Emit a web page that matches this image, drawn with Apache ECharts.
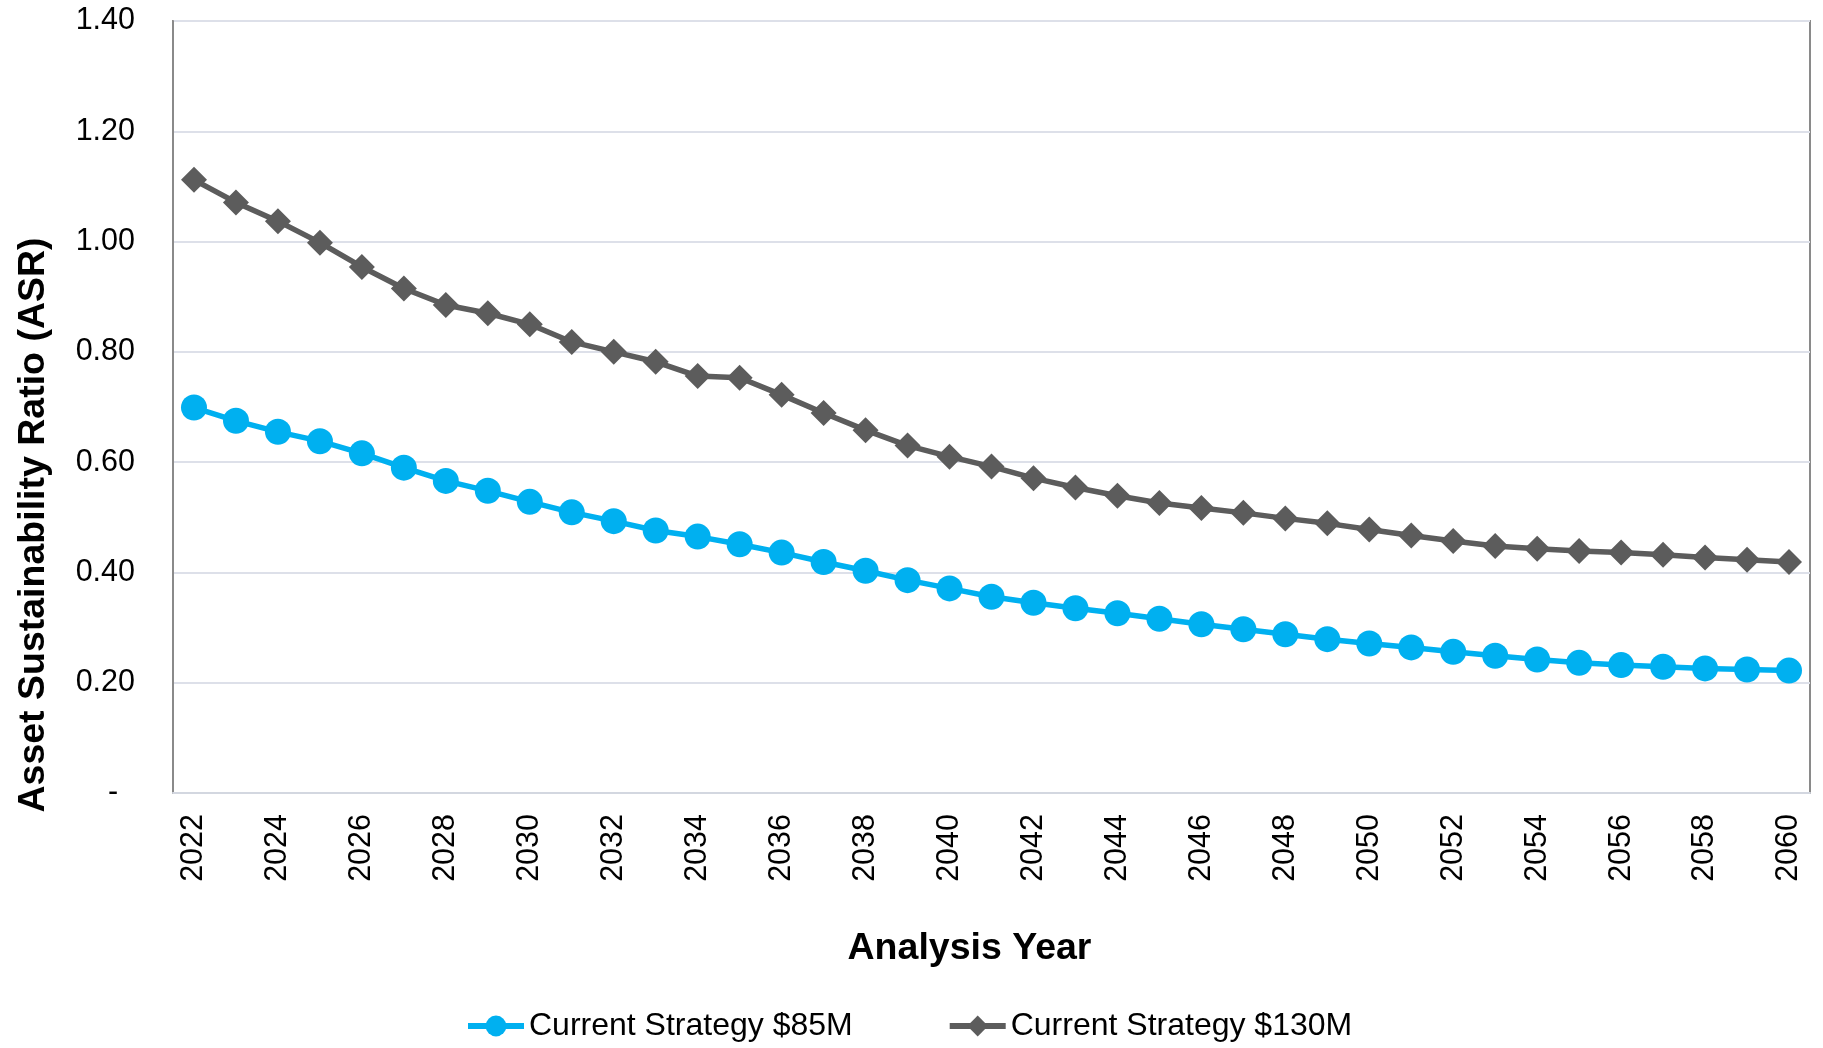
<!DOCTYPE html>
<html>
<head>
<meta charset="utf-8">
<title>Asset Sustainability Ratio</title>
<script src="https://cdn.jsdelivr.net/npm/echarts@6/dist/echarts.min.js"></script>
<style>
  html, body { margin: 0; padding: 0; background: #ffffff; }
  #chart { width: 1823px; height: 1048px; }
</style>
</head>
<body>
<div id="chart"></div>
<script>
// Analysis years on the category axis
const years = [
  '2022','2023','2024','2025','2026','2027','2028','2029','2030','2031',
  '2032','2033','2034','2035','2036','2037','2038','2039','2040','2041',
  '2042','2043','2044','2045','2046','2047','2048','2049','2050','2051',
  '2052','2053','2054','2055','2056','2057','2058','2059','2060'
];

// ASR under the $85M funding level
const strategy85 = [
  0.699, 0.675, 0.655, 0.638, 0.616, 0.590, 0.566, 0.548, 0.528, 0.509,
  0.493, 0.476, 0.465, 0.451, 0.436, 0.419, 0.403, 0.386, 0.371, 0.356,
  0.345, 0.335, 0.326, 0.316, 0.306, 0.297, 0.288, 0.279, 0.271, 0.264,
  0.256, 0.249, 0.242, 0.236, 0.232, 0.229, 0.226, 0.224, 0.222
];

// ASR under the $130M funding level
const strategy130 = [
  1.112, 1.071, 1.037, 0.998, 0.954, 0.915, 0.885, 0.870, 0.850, 0.818,
  0.800, 0.782, 0.756, 0.753, 0.722, 0.689, 0.658, 0.630, 0.610, 0.592,
  0.571, 0.554, 0.539, 0.526, 0.517, 0.508, 0.498, 0.489, 0.478, 0.467,
  0.457, 0.448, 0.443, 0.439, 0.436, 0.432, 0.427, 0.423, 0.419
];

const seriesNames = ['Current Strategy $85M', 'Current Strategy $130M'];

const FONT = "'Liberation Sans', Arial, Helvetica, sans-serif";
const BLUE = '#00B0F0';
const GREY = '#5c5c5c';

const chart = echarts.init(document.getElementById('chart'), null, { renderer: 'canvas' });

chart.setOption({
  animation: false,
  backgroundColor: '#ffffff',
  textStyle: { fontFamily: FONT, color: '#000000' },
  grid: {
    left: 173,
    right: 13,
    top: 21,
    bottom: 255,
    show: true,
    borderColor: '#8a8a8a',
    borderWidth: 2,
    containLabel: false
  },
  legend: {
    data: seriesNames,
    left: 460,
    top: 1005,
    itemWidth: 56,
    itemHeight: 26,
    itemGap: 94,
    lineStyle: { width: 6 },
    textStyle: { fontFamily: FONT, fontSize: 32, color: '#000000' }
  },
  xAxis: {
    type: 'category',
    data: years,
    boundaryGap: true,
    name: 'Analysis Year',
    nameLocation: 'middle',
    nameGap: 137,
    nameTextStyle: {
      fontFamily: FONT, fontSize: 37.5, fontWeight: 'bold', color: '#000000',
      padding: [0, 44, 0, 0]
    },
    axisLine: { show: true, lineStyle: { color: '#d3d7e0', width: 2 } },
    axisTick: { show: false },
    axisLabel: {
      interval: 1,
      rotate: 90,
      margin: 21,
      fontFamily: FONT,
      fontSize: 30.5,
      color: '#000000'
    },
    splitLine: { show: false }
  },
  yAxis: {
    type: 'value',
    min: 0,
    max: 1.4,
    interval: 0.2,
    name: 'Asset Sustainability Ratio (ASR)',
    nameLocation: 'middle',
    nameRotate: 90,
    nameGap: 120,
    nameTextStyle: {
      fontFamily: FONT, fontSize: 37.5, fontWeight: 'bold', color: '#000000',
      padding: [0, 236, 0, 0]
    },
    axisLine: { show: true, lineStyle: { color: '#8a8a8a', width: 2 } },
    axisTick: { show: false },
    axisLabel: {
      margin: 38,
      fontFamily: FONT,
      fontSize: 30.5,
      color: '#000000',
      formatter: function (v) {
        return v === 0 ? '-  ' : v.toFixed(2);
      }
    },
    splitLine: { show: true, lineStyle: { color: '#dde0e9', width: 2 } }
  },
  series: [
    {
      name: seriesNames[0],
      type: 'line',
      data: strategy85,
      symbol: 'circle',
      symbolSize: 26,
      itemStyle: { color: BLUE },
      lineStyle: { color: BLUE, width: 5.5 },
      z: 3
    },
    {
      name: seriesNames[1],
      type: 'line',
      data: strategy130,
      symbol: 'diamond',
      symbolSize: 26,
      itemStyle: { color: GREY },
      lineStyle: { color: GREY, width: 5.5 },
      z: 3
    }
  ]
});
</script>
</body>
</html>
